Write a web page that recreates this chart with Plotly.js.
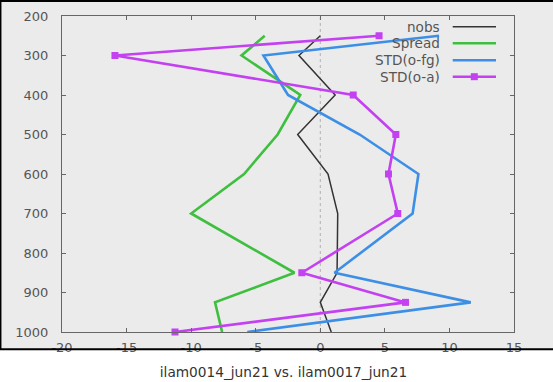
<!DOCTYPE html>
<html><head><meta charset="utf-8">
<script src="https://cdn.plot.ly/plotly-3.0.1.min.js"></script>
<style>html,body{margin:0;padding:0;background:#fff;}#chart{width:553px;height:382px;}</style>
</head><body><div id="chart"></div>
<script>
// ---- data ----
const pressure = [250, 300, 400, 500, 600, 700, 850, 925, 1000];
const nobs     = [0.0, -1.65, 1.15, -1.75, 0.6, 1.35, 1.3, 0.0, 0.85];
const spread   = [-4.3, -6.1, -1.55, -3.3, -5.9, -10.0, -2.0, -8.15, -7.6];
const stdFg    = [9.2, -4.4, -2.5, 3.05, 7.6, 7.15, 1.1, 11.65, -5.65];
const stdA     = [4.55, -15.9, 2.55, 5.85, 5.28, 6.0, -1.43, 6.6, -11.25];
const seriesNames = ['nobs', 'Spread', 'STD(o-fg)', 'STD(o-a)'];
const xTicks = [-20, -15, -10, -5, 0, 5, 10, 15];
const yTicks = [200, 300, 400, 500, 600, 700, 800, 900, 1000];
const chartTitle = 'ilam0014_jun21 vs. ilam0017_jun21';

// ---- styling / layout ----
const W = 553, H = 382, L = 62, R = 514, T = 16, B = 332;
const px = x => (x - L) / (R - L);
const py = y => (B - y) / (B - T);
const colors = ['#333333', '#3fbf3f', '#3d8fe6', '#c341f0'];
const widths = [1.5, 2.6, 2.6, 2.6];
const font = 'DejaVu Sans, sans-serif';

const seriesData = [nobs, spread, stdFg, stdA];
const traces = seriesData.map((vals, i) => ({
  type: 'scatter',
  mode: i === 3 ? 'lines+markers' : 'lines',
  x: vals, y: pressure, name: seriesNames[i],
  line: {color: colors[i], width: widths[i]},
  marker: {symbol: 'square', size: 7, color: colors[i]},
  cliponaxis: false,
  showlegend: false, hoverinfo: 'skip'
}));

const axisCommon = {
  ticks: 'inside', ticklen: 4, tickcolor: '#666', tickwidth: 1,
  showline: true, linecolor: '#666', linewidth: 1, mirror: 'ticks',
  showgrid: false, zeroline: false,
  tickfont: {family: font, size: 13, color: '#555'}
};

const shapes = [
  {type: 'rect', xref: 'paper', yref: 'paper', x0: px(0), x1: px(W), y0: py(350), y1: py(0),
   fillcolor: '#ebebeb', line: {width: 0}, layer: 'below'},
  {type: 'line', xref: 'x', yref: 'paper', x0: 0, x1: 0, y0: 0, y1: 1,
   line: {color: '#b0b0b0', width: 1, dash: 'dot'}, layer: 'below'},
  {type: 'line', xref: 'paper', yref: 'paper', x0: px(0), x1: px(W), y0: py(1), y1: py(1),
   line: {color: '#000', width: 2}, layer: 'above'},
  {type: 'line', xref: 'paper', yref: 'paper', x0: px(0), x1: px(W), y0: py(349.3), y1: py(349.3),
   line: {color: '#000', width: 2}, layer: 'above'},
  {type: 'line', xref: 'paper', yref: 'paper', x0: px(0.7), x1: px(0.7), y0: py(0), y1: py(350),
   line: {color: '#000', width: 1.5}, layer: 'above'}
];
const legendRows = [26.7, 43.3, 60.2, 76.7];
const annotations = [];
seriesNames.forEach((n, i) => {
  shapes.push({type: 'line', xref: 'paper', yref: 'paper', x0: px(452.7), x1: px(496),
    y0: py(legendRows[i]), y1: py(legendRows[i]),
    line: {color: colors[i], width: widths[i]}, layer: 'above'});
  annotations.push({text: n, xref: 'paper', yref: 'paper', x: px(442), y: py(legendRows[i]),
    xanchor: 'right', yanchor: 'middle', showarrow: false,
    font: {family: font, size: 13.6, color: '#555'}});
});
shapes.push({type: 'rect', xref: 'paper', yref: 'paper', x0: px(474.3 - 3.5), x1: px(474.3 + 3.5),
  y0: py(legendRows[3] + 3.5), y1: py(legendRows[3] - 3.5), fillcolor: colors[3], line: {width: 0}, layer: 'above'});

const layout = {
  width: W, height: H,
  margin: {l: L, r: W - R, t: T, b: H - B, pad: 0},
  paper_bgcolor: '#ffffff', plot_bgcolor: '#ebebeb',
  showlegend: false,
  title: {text: chartTitle, font: {family: font, size: 13.7, color: '#333'},
          xref: 'container', yref: 'container', x: 283.5 / W, xanchor: 'center',
          y: 1 - 372 / H, yanchor: 'middle'},
  xaxis: Object.assign({}, axisCommon, {range: [-20, 15], tickvals: xTicks, ticktext: xTicks.map(String), ticklabelstandoff: 3}),
  yaxis: Object.assign({}, axisCommon, {range: [1000, 200], tickvals: yTicks, ticktext: yTicks.map(String), ticklabelstandoff: 10}),
  shapes: shapes, annotations: annotations
};
Plotly.newPlot('chart', traces, layout, {displayModeBar: false, staticPlot: true});
</script></body></html>
